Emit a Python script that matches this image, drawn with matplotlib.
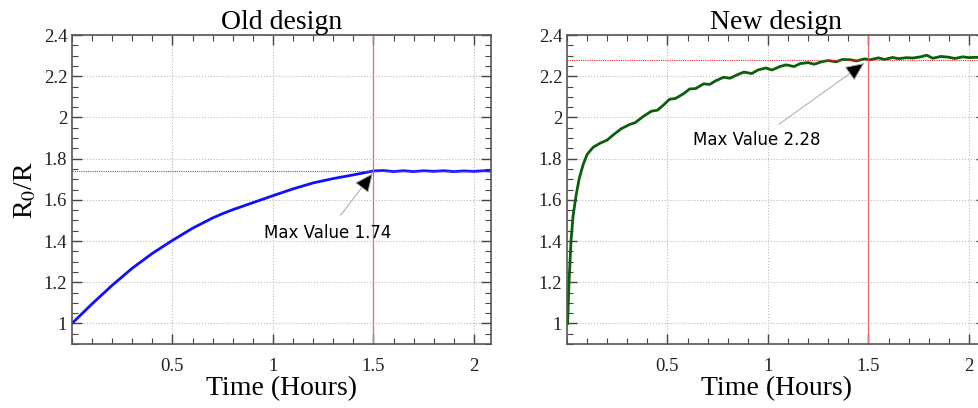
import numpy as np
import matplotlib.pyplot as plt
from matplotlib.ticker import MultipleLocator, FixedLocator, FuncFormatter

plt.rcParams['mathtext.fontset'] = 'stix'

# old design, R0/R against time (hours)
old_t = [0, 0.1, 0.2, 0.3, 0.4, 0.5, 0.6, 0.7, 0.75, 0.8, 0.9, 1.0, 1.1, 1.2, 1.3, 1.4, 1.5,
         1.55, 1.6, 1.65, 1.7, 1.75, 1.8, 1.85, 1.9, 1.95, 2.0, 2.05, 2.1]
old_v = [1.00, 1.095, 1.185, 1.268, 1.34, 1.403, 1.462, 1.512, 1.533, 1.552, 1.586, 1.620,
         1.653, 1.682, 1.703, 1.721, 1.740,
         1.742, 1.737, 1.741, 1.737, 1.741, 1.738, 1.741, 1.737, 1.740, 1.738, 1.741, 1.739]
old_max = 1.74

# new design
new_t = [0.003, 0.01, 0.02, 0.03, 0.045, 0.06, 0.08, 0.1, 0.13, 0.165, 0.2, 0.23, 0.27,
         0.31, 0.34, 0.38, 0.42, 0.45, 0.48, 0.51, 0.54, 0.58, 0.61, 0.64, 0.68, 0.71, 0.74,
         0.78, 0.81, 0.85, 0.88, 0.92, 0.95, 0.99, 1.02, 1.06, 1.09, 1.13, 1.16, 1.2, 1.23,
         1.27, 1.3, 1.34, 1.37, 1.41, 1.44, 1.48, 1.51, 1.55, 1.58, 1.62, 1.65, 1.69, 1.72,
         1.76, 1.79, 1.82, 1.86, 1.9, 1.93, 1.97, 2.0, 2.04, 2.08]
new_v = [1.0, 1.2, 1.4, 1.52, 1.62, 1.7, 1.77, 1.82, 1.855, 1.875, 1.89, 1.915, 1.945,
         1.965, 1.975, 2.005, 2.03, 2.035, 2.06, 2.088, 2.092, 2.115, 2.138, 2.14, 2.163, 2.16,
         2.178, 2.195, 2.19, 2.208, 2.22, 2.213, 2.23, 2.24, 2.23, 2.247, 2.255, 2.247, 2.261,
         2.266, 2.258, 2.271, 2.276, 2.27, 2.281, 2.28, 2.274, 2.284, 2.28, 2.289, 2.281, 2.291,
         2.285, 2.29, 2.288, 2.294, 2.302, 2.287, 2.296, 2.292, 2.286, 2.294, 2.29, 2.292, 2.285]
new_max = 2.28

fig = plt.figure(figsize=(9.79, 4.08), dpi=100)
ax1 = fig.add_axes([72/979, 64/408, 419/979, 309/408])
ax2 = fig.add_axes([567/979, 64/408, 419/979, 309/408])

fmt = FuncFormatter(lambda v, p: '%g' % v)


def style(ax):
    ax.set_xlim(0, 2.085)
    ax.set_ylim(0.9, 2.4)
    ax.xaxis.set_major_locator(FixedLocator([0.5, 1, 1.5, 2]))
    ax.xaxis.set_minor_locator(MultipleLocator(0.1))
    ax.yaxis.set_major_locator(FixedLocator([1, 1.2, 1.4, 1.6, 1.8, 2, 2.2, 2.4]))
    ax.yaxis.set_minor_locator(MultipleLocator(0.05))
    ax.xaxis.set_major_formatter(fmt)
    ax.yaxis.set_major_formatter(fmt)
    ax.tick_params(which='both', direction='in', top=True, right=True, colors='#444444',
                   labelcolor='#222222', labelsize=13.5, labelfontfamily='Liberation Serif')
    ax.tick_params(which='major', length=7, width=1)
    ax.tick_params(which='minor', length=4, width=0.8)
    ax.tick_params(axis='x', pad=10)
    for s in ax.spines.values():
        s.set_color('#555555')
        s.set_linewidth(1.2)
    ax.grid(True, which='major', color='#bbbbbb', ls=':', lw=0.8)
    ax.set_xlabel('Time (Hours)', fontsize=20, family='Liberation Serif', labelpad=1)


style(ax1)
style(ax2)

ax1.plot(old_t, old_v, color='#1010ff', lw=2)
ax1.axvline(1.5, color='#e07070', lw=0.9)
ax1.axhline(old_max, color='#e03030', lw=0.8, ls=(0, (1, 1)))
ax1.set_title('Old design', fontsize=20, family='Liberation Serif', pad=4)
ax1.set_ylabel(r'R$_0$/R', fontsize=20, family='Liberation Serif', labelpad=4)
ax1.annotate('Max Value %.2f' % old_max, xy=(1.497, 1.729), xytext=(1.27, 1.44),
             ha='center', va='center', fontsize=12, family='DejaVu Sans',
             arrowprops=dict(arrowstyle='-|>,head_length=1.0,head_width=0.45', fc='black',
                             ec='#aaaaaa', lw=0.7, shrinkA=5, shrinkB=0))

ax2.plot(new_t, new_v, color='#0b5e0b', lw=2)
ax2.axvline(1.5, color='#e07070', lw=0.9)
ax2.axhline(new_max, color='#e03030', lw=0.8, ls=(0, (1, 1)))
ax2.set_title('New design', fontsize=20, family='Liberation Serif', pad=4)
ax2.annotate('Max Value %.2f' % new_max, xy=(1.48, 2.264), xytext=(0.945, 1.89),
             ha='center', va='center', fontsize=12, family='DejaVu Sans',
             arrowprops=dict(arrowstyle='-|>,head_length=1.0,head_width=0.45', fc='black',
                             ec='#aaaaaa', lw=0.7, shrinkA=5, shrinkB=0))

fig.savefig('out.png', dpi=100)
